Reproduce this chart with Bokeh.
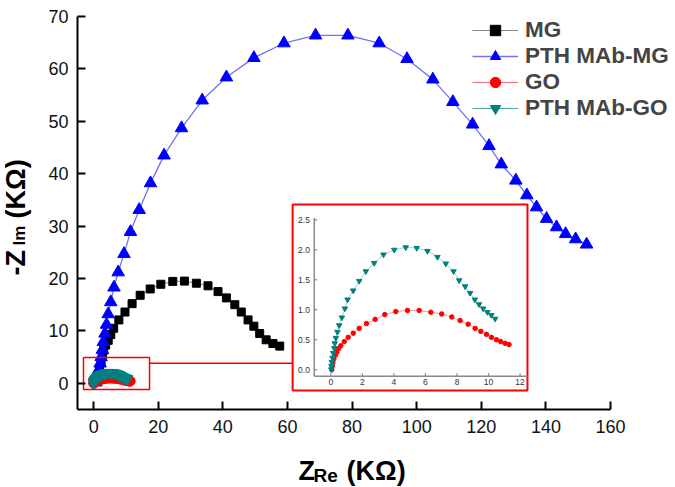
from bokeh.plotting import figure
from bokeh.models import Range1d, Label, Legend, LegendItem, FixedTicker
from bokeh.embed import file_html
from bokeh.resources import INLINE
from bokeh.core.properties import value
import math

# ---------------- data (KΩ) ----------------
mg_x = [0.8, 1.3, 1.8, 2.3, 2.7, 3.1, 3.7, 4.5, 5.3, 6.2, 7.8, 9.7, 11.9, 14.4, 17.5, 20.8,
        24.5, 28.1, 31.8, 35.4, 38.5, 41.1, 43.7, 45.7, 47.8, 49.6, 51.4, 53.4, 55.5, 57.6]
mg_y = [0.3, 1.5, 2.8, 4.0, 5.2, 6.3, 7.3, 8.2, 9.3, 10.5, 12.1, 13.6, 15.2, 16.8, 18.0, 18.9,
        19.45, 19.5, 19.1, 18.6, 17.5, 16.3, 15.0, 13.6, 12.1, 10.9, 9.5, 8.3, 7.6, 7.1]

pmg_x = [0.7, 1.0, 1.3, 1.6, 2.0, 2.3, 2.7, 3.0, 3.5, 4.0, 4.5, 5.3, 6.3, 7.6, 9.4, 11.4, 14.1,
         17.6, 21.8, 27.2, 33.6, 41.1, 49.6, 58.9, 68.7, 78.7, 88.4, 97.0, 105.0, 111.2, 117.3,
         122.4, 126.2, 130.7, 134.1, 137.1, 140.2, 143.3, 146.1, 149.2, 152.6]
pmg_y = [0.2, 0.9, 1.8, 2.6, 3.8, 5.0, 6.4, 7.9, 9.5, 11.2, 13.2, 15.5, 18.3, 21.2, 24.7, 28.9,
         33.1, 38.2, 43.5, 48.7, 54.0, 58.4, 62.1, 64.9, 66.4, 66.4, 64.9, 61.9, 58.0, 53.7, 49.4,
         45.3, 41.8, 38.7, 35.9, 33.6, 31.4, 29.8, 28.5, 27.5, 26.5]

go_x = [0.06, 0.09, 0.13, 0.19, 0.28, 0.38, 0.49, 0.63, 0.85, 1.10, 1.42, 1.80, 2.26, 2.81,
        3.42, 4.12, 4.86, 5.60, 6.34, 7.03, 7.67, 8.20, 8.71, 9.15, 9.51, 9.87, 10.18, 10.50,
        10.77, 11.05, 11.30]
go_y = [0.00, 0.06, 0.12, 0.18, 0.24, 0.29, 0.35, 0.40, 0.47, 0.54, 0.61, 0.69, 0.77, 0.84,
        0.92, 0.97, 0.99, 0.99, 0.96, 0.93, 0.88, 0.82, 0.76, 0.69, 0.64, 0.59, 0.54, 0.50,
        0.47, 0.44, 0.42]

pgo_x = [0.03, 0.04, 0.06, 0.11, 0.15, 0.22, 0.25, 0.32, 0.42, 0.53, 0.70, 0.89, 1.06, 1.42,
         1.80, 2.22, 2.75, 3.34, 4.02, 4.75, 5.45, 6.13, 6.76, 7.29, 7.78, 8.14, 8.52, 8.83,
         9.13, 9.40, 9.66, 9.93, 10.18, 10.42]
pgo_y = [0.005, 0.06, 0.13, 0.20, 0.28, 0.36, 0.44, 0.53, 0.63, 0.74, 0.87, 1.02, 1.17, 1.32,
         1.48, 1.64, 1.78, 1.92, 2.00, 2.04, 2.03, 1.98, 1.88, 1.77, 1.64, 1.49, 1.39, 1.28,
         1.17, 1.09, 1.02, 0.96, 0.91, 0.85]

x_ticks = [0, 20, 40, 60, 80, 100, 120, 140, 160]
y_ticks = [0, 10, 20, 30, 40, 50, 60, 70]
inset_x_ticks = [0, 2, 4, 6, 8, 10, 12]
inset_y_ticks = [0.0, 0.5, 1.0, 1.5, 2.0, 2.5]
inset_y_labels = ["0.0", "0.5", "1.0", "1.5", "2.0", "2.5"]

# ---------------- layout constants ----------------
W, H = 675, 487
AX_L, AX_R, AX_T, AX_B = 77, 610, 16, 409       # pixel box of the axes
X0, X1, Y0, Y1 = -5, 160, -5, 70                  # data extent of the axes
FONT = "Liberation Sans"

sx = (AX_R - AX_L) / (X1 - X0)
sy = (AX_B - AX_T) / (Y1 - Y0)
XR = (X0 - AX_L / sx, X1 + (W - AX_R) / sx)
YR = (Y0 - (H - AX_B) / sy, Y1 + AX_T / sy)

# inset plotting region (in main data coords) and its own data range
IN_MX = (68.3, 134.3)
IN_MY = (1.36, 31.2)
IN_VX = (-1.05, 12.47)
IN_VY = (-0.107, 2.5)


def lin(a, m, v):
    return v[0] + (a - m[0]) * (v[1] - v[0]) / (m[1] - m[0])


p = figure(frame_width=W, frame_height=H,
           x_range=Range1d(*XR), y_range=Range1d(*YR),
           output_backend="svg", toolbar_location=None,
           min_border=0, min_border_left=0, min_border_right=0,
           min_border_top=0, min_border_bottom=0,
           background_fill_color="white", border_fill_color="white")
p.outline_line_color = None
p.xgrid.visible = False
p.ygrid.visible = False

p.extra_x_ranges = {"ix": Range1d(lin(XR[0], IN_MX, IN_VX), lin(XR[1], IN_MX, IN_VX))}
p.extra_y_ranges = {"iy": Range1d(lin(YR[0], IN_MY, IN_VY), lin(YR[1], IN_MY, IN_VY))}

for ax in (p.xaxis[0], p.yaxis[0]):
    ax.axis_line_width = 2
    ax.axis_line_color = "black"
    ax.major_tick_line_width = 2
    ax.major_tick_line_color = "black"
    ax.major_tick_in = 8
    ax.major_tick_out = 0
    ax.minor_tick_line_color = None
    ax.major_label_text_font = FONT
    ax.major_label_text_font_size = "18px"
    ax.major_label_text_color = "#111111"
p.xaxis.ticker = FixedTicker(ticks=x_ticks)
p.yaxis.ticker = FixedTicker(ticks=y_ticks)
p.xaxis.fixed_location = Y0
p.yaxis.fixed_location = X0
p.xaxis.bounds = (X0, X1)
p.yaxis.bounds = (Y0, Y1)
p.xaxis.major_label_standoff = 10
p.yaxis.major_label_standoff = 9

# ---------------- main series ----------------
l_mg = p.line(mg_x, mg_y, line_color="#888888", line_width=1)
s_mg = p.scatter(mg_x, mg_y, marker="square", size=8, fill_color="black", line_color="black")

l_pmg = p.line(pmg_x, pmg_y, line_color="#7373f0", line_width=1.3)
s_pmg = p.scatter(pmg_x, pmg_y, marker="triangle", size=12.5, fill_color="#0000ff", line_color="#0000ff")

l_go = p.line(go_x, go_y, line_color="#f07070", line_width=1)
s_go = p.scatter(go_x, go_y, marker="circle", size=10, fill_color="#ff0000", line_color="#ff0000")

l_pgo = p.line(pgo_x, pgo_y, line_color="#4fa8a8", line_width=1)
s_pgo = p.scatter(pgo_x, pgo_y, marker="inverted_triangle", size=11, fill_color="#008080", line_color="#008080")

# ---------------- zoom boxes ----------------
SMALL = (-3.14, 17.3, -1.18, 4.92)
BIG = (61.6, 134.3, -1.37, 34.1)
CONN_Y = 3.84
p.quad(left=[SMALL[0]], right=[SMALL[1]], bottom=[SMALL[2]], top=[SMALL[3]],
       fill_color=None, line_color="#ff0000", line_width=1.5)
p.segment(x0=[SMALL[1]], y0=[CONN_Y], x1=[BIG[0]], y1=[CONN_Y], line_color="#ff0000", line_width=1.5)
p.quad(left=[BIG[0]], right=[BIG[1]], bottom=[BIG[2]], top=[BIG[3]],
       fill_color="white", line_color="#ff0000", line_width=2)

# ---------------- inset axes (drawn through the inset ranges) ----------------
R = dict(x_range_name="ix", y_range_name="iy")
ixa, ixb = IN_VX
iya, iyb = IN_VY
AX_COL = "#8a8a8a"
p.segment(x0=[ixa], y0=[iya], x1=[ixb], y1=[iya], line_color=AX_COL, line_width=1.5, **R)
p.segment(x0=[ixa], y0=[iya], x1=[ixa], y1=[iyb + 0.03], line_color=AX_COL, line_width=1.5, **R)
tick_dx = 3 / 15.78
tick_dy = 3 / 60.0
p.segment(x0=inset_x_ticks, y0=[iya] * len(inset_x_ticks), x1=inset_x_ticks,
          y1=[iya + tick_dy] * len(inset_x_ticks), line_color=AX_COL, line_width=1.2, **R)
p.segment(x0=[ixa] * len(inset_y_ticks), y0=inset_y_ticks, x1=[ixa + tick_dx] * len(inset_y_ticks),
          y1=inset_y_ticks, line_color=AX_COL, line_width=1.2, **R)
p.text(x=inset_x_ticks, y=[iya - 0.055] * len(inset_x_ticks), text=[str(t) for t in inset_x_ticks],
       text_font=value(FONT), text_font_size="8.5px", text_color="#333333",
       text_align="center", text_baseline="top", **R)
p.text(x=[ixa - 0.28] * len(inset_y_ticks), y=inset_y_ticks, text=inset_y_labels,
       text_font=value(FONT), text_font_size="8.5px", text_color="#333333",
       text_align="right", text_baseline="middle", **R)

p.line(go_x, go_y, line_color="#ff9a9a", line_width=1, **R)
p.scatter(go_x, go_y, marker="circle", size=4.5, fill_color="#ff0000", line_color="#ff0000", **R)
p.line(pgo_x, pgo_y, line_color="#9fd4d4", line_width=1, **R)
p.scatter(pgo_x, pgo_y, marker="inverted_triangle", size=5.5, fill_color="#008080", line_color="#008080", **R)

# ---------------- legend ----------------
legend = Legend(items=[
    LegendItem(label="MG", renderers=[l_mg, s_mg]),
    LegendItem(label="PTH MAb-MG", renderers=[l_pmg, s_pmg]),
    LegendItem(label="GO", renderers=[l_go, s_go]),
    LegendItem(label="PTH MAb-GO", renderers=[l_pgo, s_pgo]),
], location=(472, 366))
legend.label_text_font = FONT
legend.label_text_font_style = "bold"
legend.label_text_font_size = "22.5px"
legend.glyph_width = 46
legend.glyph_height = 26
legend.label_height = 26
legend.label_standoff = 7
legend.spacing = 0
legend.padding = 0
legend.margin = 0
legend.border_line_color = None
legend.background_fill_alpha = 0
p.add_layout(legend)


# ---------------- axis titles (screen px from bottom-left) ----------------
def title(text, x, y, size, angle=0.0):
    p.add_layout(Label(x=x, y=y, x_units="screen", y_units="screen", text=text, angle=angle,
                       text_font=FONT, text_font_style="bold", text_font_size=size,
                       text_align="left", text_baseline="alphabetic", text_color="black"))


title("Z", 298, 17, "27px")
title("Re", 313, 12, "19px")
title("(KΩ)", 346, 17, "27px")

title("-Z", 15, 212, "27px", math.pi / 2)
title("Im", 19, 242, "17px", math.pi / 2)
title("(KΩ)", 15, 269, "27px", math.pi / 2)

open("out.html", "w").write(file_html(p, INLINE))
